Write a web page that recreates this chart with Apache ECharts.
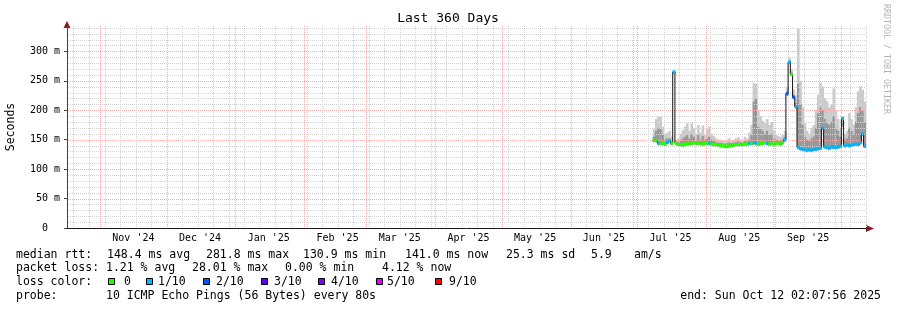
<!DOCTYPE html>
<html>
<head>
<meta charset="utf-8">
<script src="https://cdn.jsdelivr.net/npm/echarts@6/dist/echarts.min.js"></script>
<style>
  html, body { margin: 0; padding: 0; background: #fff; }
  #chart { width: 897px; height: 310px; }
</style>
</head>
<body>
<div id="chart"></div>
<script>
// ---------------- data ----------------
const DAY = 86400000;
const END_TIME = Date.UTC(2025, 9, 12, 2, 7, 56);
const START_TIME = END_TIME - 360 * DAY;
const DATA_START = Date.UTC(2025, 6, 8); // first daily bin (Jul 8 2025)

// daily median RTT (ms), Jul 8 .. Oct 11 2025
const medianRtt = [
  149,149,144,144,144,143,146,148,144,265,144,142,142,141,143,143,144,144,145,144,144,144,143,144,
  144,144,143,142,142,141,140,140,139,139,140,140,141,142,142,142,142,143,143,144,144,145,144,143,144,144,145,144,143,144,142,
  144,144,143,145,150,228,282,261,222,206,137,135,134,133,132,133,132,134,134,135,136,170,138,137,136,138,137,137,138,139,
  186,140,141,140,141,142,143,142,145,160,139
];
// lost pings out of 10 per bin
const lossCount = [
  0,0,1,0,0,0,1,1,0,1,0,0,0,0,0,0,0,0,0,0,0,0,0,0,
  0,1,0,0,0,0,0,0,0,0,0,0,0,0,0,0,0,0,0,1,0,1,1,0,0,0,0,1,0,0,0,
  0,0,0,0,1,2,1,0,2,1,1,1,1,1,1,1,1,1,1,1,1,1,1,1,1,1,1,1,1,1,
  1,1,1,1,1,1,1,1,1,1,1
];
// smoke: highest ping (ms)
const smokeHigh = [
  168,185,189,189,172,160,162,165,155,268,150,152,160,166,172,178,165,178,170,160,175,162,174,158,
  168,172,160,156,152,150,150,148,148,150,152,148,150,152,154,150,150,155,152,162,175,246,245,200,190,182,178,185,175,180,165,
  158,156,155,158,165,240,290,270,235,225,339,250,205,178,165,160,170,175,200,226,246,240,220,215,205,210,237,200,185,168,
  190,160,165,195,185,175,205,232,241,235,215
];
// smoke: upper dense band (ms)
const smokeMid = [
  155,165,170,168,158,150,152,152,148,266,146,146,148,152,155,158,152,160,155,150,158,150,156,150,
  152,155,150,148,146,145,145,144,143,144,145,144,145,146,147,146,146,148,147,150,158,215,220,172,168,165,160,165,158,160,152,
  150,149,148,150,155,232,284,264,226,212,245,210,175,155,150,148,152,155,170,195,205,200,185,178,175,180,190,170,165,155,
  172,150,152,170,165,160,180,195,205,200,180
];

const yTickValues = [0, 50, 100, 150, 200, 250, 300];
const yTickLabels = ['0  ', '50 m', '100 m', '150 m', '200 m', '250 m', '300 m'];
const monthLabels = ["Nov '24", "Dec '24", "Jan '25", "Feb '25", "Mar '25", "Apr '25",
                     "May '25", "Jun '25", "Jul '25", "Aug '25", "Sep '25"];
const monthLabelYears = [2024, 2024, 2025, 2025, 2025, 2025, 2025, 2025, 2025, 2025, 2025];
const monthLabelMonths = [10, 11, 0, 1, 2, 3, 4, 5, 6, 7, 8];

const lossLevels = [0, 1, 2, 3, 4, 5, 9];
const lossLabels = ['0', '1/10', '2/10', '3/10', '4/10', '5/10', '9/10'];
const lossColors = ['#26ff00', '#00b8ff', '#0059ff', '#5e00ff', '#7e00ff', '#dd00ff', '#ff0000'];

const medianStats = ['median rtt:', '148.4 ms avg', '281.8 ms max', '130.9 ms min', '141.0 ms now', '25.3 ms sd', '5.9', 'am/s'];
const lossStats = ['packet loss:', '1.21 % avg', '28.01 % max', '0.00 % min', '4.12 % now'];
const probeText = ['probe:', '10 ICMP Echo Pings (56 Bytes) every 80s'];
const endText = 'end: Sun Oct 12 02:07:56 2025';
const titleText = 'Last 360 Days';

// ---------------- derived structures ----------------
const dayTimes = medianRtt.map((_, i) => DATA_START + i * DAY);
const monthLabelTimes = monthLabelMonths.map((m, i) => Date.UTC(monthLabelYears[i], m, 1) + 15 * DAY);

// grid lines (calendar based)
const vGrid = [];
const monthStarts = [];
{
  let d = new Date(START_TIME);
  let y = d.getUTCFullYear(), m = d.getUTCMonth() + 1;
  while (true) {
    const t = Date.UTC(y, m, 1);
    if (t > END_TIME) break;
    monthStarts.push(t);
    m++; if (m > 11) { m = 0; y++; }
  }
  // Sundays (minor)
  let s = new Date(START_TIME);
  let t0 = Date.UTC(s.getUTCFullYear(), s.getUTCMonth(), s.getUTCDate());
  while (new Date(t0).getUTCDay() !== 0 || t0 < START_TIME) t0 += DAY;
  for (let t = t0; t < END_TIME; t += 7 * DAY) {
    if (monthStarts.indexOf(t) < 0) vGrid.push([t, 0, 0]);
  }
  // month starts (major) drawn last
  monthStarts.forEach(t => vGrid.push([t, 0, 1]));
}
const hGrid = [];
for (let v = 10; v <= 340; v += 10) hGrid.push([START_TIME, v, v % 50 === 0 ? 1 : 0]);

const MINOR = '#d2d2d2';
const MAJOR = '#f4acac';
const FONT = '"DejaVu Sans Mono", monospace';

const chart = echarts.init(document.getElementById('chart'), null, { renderer: 'canvas' });

const lossColorOf = (n) => lossColors[Math.max(0, lossLevels.indexOf(n))];

// legend graphics
const graphics = [];
function txt(x, y, text, extra) {
  graphics.push(Object.assign({
    type: 'text', x: x, y: y, silent: true,
    style: { text: text, font: '11.5px ' + FONT, fill: '#000',
             verticalAlign: 'middle', textVerticalAlign: 'middle', align: 'left', textAlign: 'left' }
  }, extra || {}));
}
const medX = [16, 107, 206, 303, 405, 506, 591, 634];
medianStats.forEach((s, i) => txt(medX[i], 255, s));
const lossX = [16, 106, 192, 285, 382];
lossStats.forEach((s, i) => txt(lossX[i], 268, s));
txt(16, 282, 'loss color:');
const sqX = [108.5, 146.5, 203.5, 261.5, 318.5, 376.5, 435.5];
const sqTX = [124, 158, 216, 274, 331, 387, 449];
lossLabels.forEach((l, i) => {
  graphics.push({ type: 'rect', silent: true, shape: { x: sqX[i], y: 278.5, width: 6, height: 6 },
    style: { fill: lossColors[i], stroke: '#000', lineWidth: 1 } });
  txt(sqTX[i], 282, l);
});
txt(16, 296, probeText[0]);
txt(106, 296, probeText[1]);
graphics.push({ type: 'text', x: 881, y: 296, silent: true,
  style: { text: endText, font: '11.5px ' + FONT, fill: '#000', align: 'right', textAlign: 'right',
           verticalAlign: 'middle', textVerticalAlign: 'middle' } });
// title
graphics.push({ type: 'text', x: 448, y: 19, silent: true,
  style: { text: titleText, font: '13px ' + FONT, fill: '#000', align: 'center', textAlign: 'center',
           verticalAlign: 'middle', textVerticalAlign: 'middle' } });
// watermark
graphics.push({ type: 'text', x: 886, y: 59, rotation: -Math.PI / 2, silent: true,
  style: { text: 'RRDTOOL / TOBI OETIKER', font: '8.3px ' + FONT, fill: '#b4b4b4', align: 'center', textAlign: 'center',
           verticalAlign: 'middle', textVerticalAlign: 'middle' } });
// axis arrows
graphics.push({ type: 'polygon', silent: true, shape: { points: [[67, 21], [63.5, 28], [70.5, 28]] },
  style: { fill: '#8c1c1c' } });
graphics.push({ type: 'polygon', silent: true, shape: { points: [[874, 228.5], [866, 225], [866, 232]] },
  style: { fill: '#8c1c1c' } });

const option = {
  animation: false,
  backgroundColor: '#ffffff',
  grid: { left: 67, top: 26, width: 799, height: 202, containLabel: false, outerBoundsMode: 'none' },
  xAxis: {
    type: 'value', min: START_TIME, max: END_TIME,
    axisLine: { show: true, lineStyle: { color: '#1a1a1a', width: 1 } },
    axisTick: { show: false },
    splitLine: { show: false },
    axisLabel: {
      customValues: monthLabelTimes,
      formatter: (v) => { const i = monthLabelTimes.indexOf(v); return i >= 0 ? monthLabels[i] : ''; },
      fontFamily: FONT, fontSize: 10, color: '#000', margin: 5
    }
  },
  yAxis: {
    type: 'value', min: 0, max: 343,
    name: 'Seconds', nameLocation: 'middle', nameGap: 50,
    nameTextStyle: { fontFamily: FONT, fontSize: 11.5, color: '#000' },
    axisLine: { show: true, lineStyle: { color: '#444', width: 1 } },
    axisTick: { show: true, customValues: yTickValues, length: 3, lineStyle: { color: '#444' } },
    splitLine: { show: false },
    axisLabel: {
      customValues: yTickValues,
      formatter: (v) => { const i = yTickValues.indexOf(v); return i >= 0 ? yTickLabels[i] : ''; },
      fontFamily: FONT, fontSize: 10, color: '#000', margin: 7
    }
  },
  graphic: graphics,
  series: [
    {
      name: 'smoke', type: 'custom', z: 1, silent: true, clip: true,
      encode: { x: 0, y: 1 },
      data: dayTimes.map((t, i) => [t, medianRtt[i], smokeHigh[i], smokeMid[i]]),
      renderItem: (params, api) => {
        const t = api.value(0);
        const p0 = api.coord([t, api.value(1)]);
        const p1 = api.coord([t + DAY, api.value(1)]);
        const yH = api.coord([t, api.value(2)])[1];
        const yM = api.coord([t, api.value(3)])[1];
        const w = p1[0] - p0[0] + 0.4;
        return { type: 'group', children: [
          { type: 'rect', shape: { x: p0[0], y: yH, width: w, height: p0[1] + 1 - yH }, style: { fill: '#cbcbcb' } },
          { type: 'rect', shape: { x: p0[0], y: yM, width: w, height: p0[1] + 2 - yM }, style: { fill: '#969696' } }
        ] };
      }
    },
    {
      name: 'grid-h', type: 'custom', z: 2, silent: true,
      encode: { x: 0, y: 1 },
      data: hGrid,
      renderItem: (params, api) => {
        const cs = params.coordSys;
        const y = Math.round(api.coord([api.value(0), api.value(1)])[1]) + 0.5;
        return { type: 'line', shape: { x1: cs.x + 1, y1: y, x2: cs.x + cs.width, y2: y },
          style: { stroke: api.value(2) ? MAJOR : MINOR, lineWidth: 1, lineDash: [1, 1] } };
      }
    },
    {
      name: 'grid-v', type: 'custom', z: 2, silent: true,
      encode: { x: 0, y: 1 },
      data: vGrid,
      renderItem: (params, api) => {
        const cs = params.coordSys;
        const x = Math.round(api.coord([api.value(0), 0])[0]) + 0.5;
        return { type: 'line', shape: { x1: x, y1: cs.y, x2: x, y2: cs.y + cs.height },
          style: { stroke: api.value(2) ? MAJOR : MINOR, lineWidth: 1, lineDash: [1, 1] } };
      }
    },
    {
      name: 'median', type: 'line', z: 3, silent: true, step: 'end', symbol: 'none',
      lineStyle: { color: '#141414', width: 1 },
      data: dayTimes.map((t, i) => [t, medianRtt[i]])
        .concat([[DATA_START + medianRtt.length * DAY, medianRtt[medianRtt.length - 1]]])
    },
    {
      name: 'loss', type: 'custom', z: 4, silent: true,
      encode: { x: 0, y: 1 },
      data: dayTimes.map((t, i) => [t, medianRtt[i], lossCount[i]]),
      renderItem: (params, api) => {
        const t = api.value(0);
        const p0 = api.coord([t, api.value(1)]);
        const p1 = api.coord([t + DAY, api.value(1)]);
        return { type: 'rect', shape: { x: p0[0], y: p0[1] - 1.5, width: p1[0] - p0[0] + 0.3, height: 3 },
          style: { fill: lossColorOf(api.value(2)) } };
      }
    }
  ]
};
chart.setOption(option);
</script>
</body>
</html>
